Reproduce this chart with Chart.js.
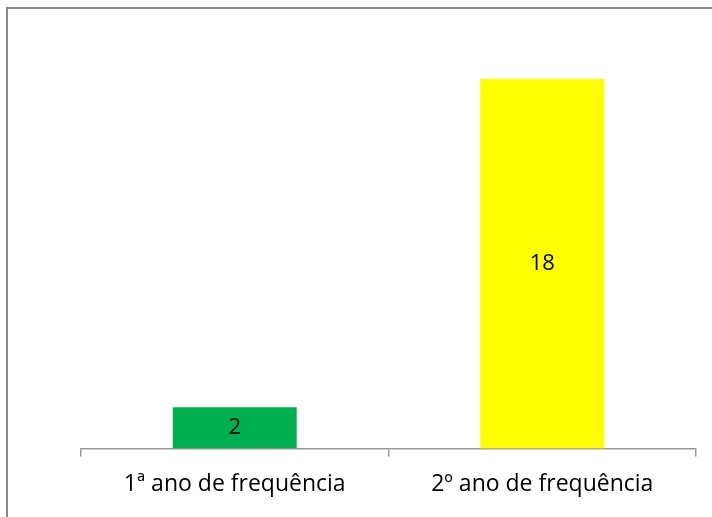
<!DOCTYPE html>
<html>
<head>
<meta charset="utf-8">
<script src="https://cdn.jsdelivr.net/npm/chart.js@4/dist/chart.umd.min.js"></script>
<style>
  html, body { margin: 0; padding: 0; background: #fff; }
  .wrap { position: relative; width: 712px; height: 517px; overflow: hidden; }
  .frame { position: absolute; left: 6px; top: 7px; right: -4px; bottom: -4px; border-left: 2px solid #8a8a8a; border-top: 2px solid #8a8a8a; }
  canvas { position: absolute; left: 0; top: 0; }
</style>
</head>
<body>
<div class="wrap">
  <div class="frame"></div>
  <canvas id="c" width="712" height="517"></canvas>
</div>
<script>
const categories = ['1ª ano de frequência', '2º ano de frequência']
const values = [2, 18]
const barColors = ['#00b050', '#ffff00']
const yMax = 20

// draws the value in the middle of each bar
const barLabels = {
  id: 'barLabels',
  afterDatasetsDraw(chart) {
    const ctx = chart.ctx
    const meta = chart.getDatasetMeta(0)
    ctx.save()
    ctx.font = '22px "Open Sans", sans-serif'
    ctx.fillStyle = '#000'
    ctx.textAlign = 'center'
    ctx.textBaseline = 'middle'
    meta.data.forEach((bar, i) => {
      const p = bar.getProps(['x', 'y', 'base'], true)
      ctx.fillText(String(values[i]), p.x, (p.y + p.base) / 2)
    })
    ctx.restore()
  }
}

new Chart(document.getElementById('c'), {
  type: 'bar',
  data: {
    labels: categories,
    datasets: [{
      data: values,
      backgroundColor: barColors,
      borderWidth: 0,
      barPercentage: 0.403,
      categoryPercentage: 1
    }]
  },
  options: {
    responsive: false,
    animation: false,
    layout: { padding: { left: 81, right: 16, top: 38, bottom: 5 } },
    plugins: { legend: { display: false }, tooltip: { enabled: false } },
    scales: {
      x: {
        offset: true,
        grid: { offset: true, drawOnChartArea: false, drawTicks: true, tickLength: 8, color: '#989898', lineWidth: 1.5 },
        border: { color: '#989898', width: 1.5 },
        ticks: { color: '#000', padding: 14, font: { family: 'Open Sans', size: 23 } }
      },
      y: { display: false, min: 0, max: yMax }
    }
  },
  plugins: [barLabels]
})
</script>
</body>
</html>
